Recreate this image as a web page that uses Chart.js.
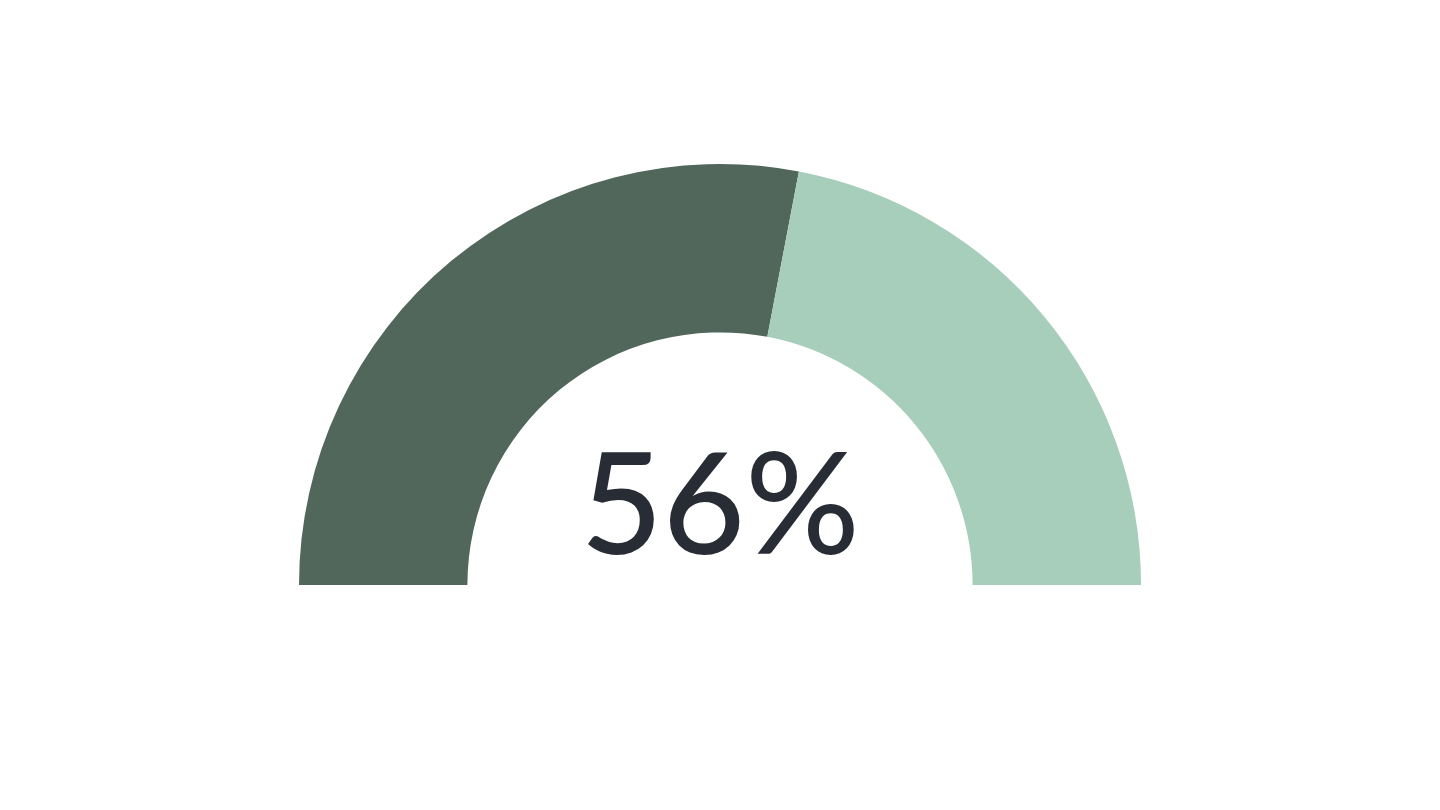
<!DOCTYPE html>
<html>
<head>
<meta charset="utf-8">
<script src="https://cdn.jsdelivr.net/npm/chart.js@4/dist/chart.umd.min.js"></script>
<style>
  html, body { margin: 0; padding: 0; background: #fff; }
  #wrap { width: 1440px; height: 810px; position: relative; }
</style>
</head>
<body>
<div id="wrap"><canvas id="gauge"></canvas></div>
<script>
// gauge data
const labels = ["Done", "Remaining"];
const values = [56, 44];
const colors = ["#52675B", "#A7CDBB"];
const centerLabel = "56%";

// draw the big percentage in the middle of the arc
const centerText = {
  id: "centerText",
  afterDraw(chart) {
    const meta = chart.getDatasetMeta(0);
    const arc = meta.data[0];
    if (!arc) return;
    const { ctx } = chart;
    ctx.save();
    ctx.font = "500 142px 'Lato', 'Noto Sans', sans-serif";
    ctx.fillStyle = "#282C35";
    ctx.textAlign = "center";
    ctx.textBaseline = "alphabetic";
    ctx.fillText(centerLabel, arc.x, arc.y - 31);
    ctx.restore();
  },
};

new Chart(document.getElementById("gauge"), {
  type: "doughnut",
  data: {
    labels,
    datasets: [{
      data: values,
      backgroundColor: colors,
      borderWidth: 0,
    }],
  },
  options: {
    responsive: true,
    maintainAspectRatio: false,
    animation: false,
    rotation: -90,
    circumference: 180,
    cutout: "60%",
    radius: 421,
    layout: { padding: { top: 164, bottom: 225, left: 0, right: 0 } },
    plugins: {
      legend: { display: false },
      tooltip: { enabled: false },
    },
  },
  plugins: [centerText],
});
</script>
</body>
</html>
